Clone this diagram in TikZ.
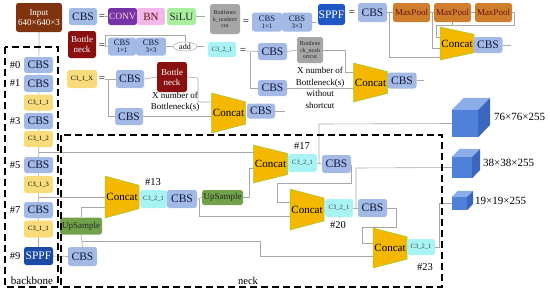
\documentclass[tikz,border=0pt]{standalone}
\usepackage{fontspec}
\setmainfont{Liberation Serif}
\usetikzlibrary{backgrounds,shapes.geometric}
\definecolor{cbsc}{HTML}{A4BAE6}
\definecolor{navyc}{HTML}{101838}
\definecolor{yelc}{HTML}{F8DC7C}
\definecolor{cyac}{HTML}{A8F4F4}
\definecolor{mpc}{HTML}{CF7E2E}
\definecolor{mptc}{HTML}{6B0F0F}
\definecolor{convc}{HTML}{7434A8}
\definecolor{bnc}{HTML}{F2B8EA}
\definecolor{siluc}{HTML}{A8F0A0}
\definecolor{grayc}{HTML}{A6A6A6}
\definecolor{sppfc}{HTML}{2157C4}
\definecolor{bottc}{HTML}{8A0F0F}
\definecolor{upc}{HTML}{71A24A}
\definecolor{catc}{HTML}{F5B800}
\definecolor{catl}{HTML}{9CC83A}
\definecolor{inpc}{HTML}{80330F}
\definecolor{linec}{HTML}{A8A8A8}
\definecolor{cubef}{HTML}{4F81D8}
\definecolor{cubet}{HTML}{8CAEE8}
\definecolor{cubes}{HTML}{3A66BE}
\tikzset{
 box/.style={rounded corners=2.5pt, inner sep=0pt, align=center},
 cbs/.style={box, fill=cbsc, text=navyc, minimum width=29pt, minimum height=17pt, font=\fontsize{11.5}{12}\selectfont},
 cbss/.style={box, fill=cbsc, text=navyc, minimum width=30pt, minimum height=19pt, font=\fontsize{8.5}{8}\selectfont},
 c31/.style={box, fill=yelc, text=black, minimum width=29pt, minimum height=16pt, font=\fontsize{6.5}{7}\selectfont},
 c32/.style={box, fill=cyac, text=black!75, minimum width=28pt, minimum height=16pt, font=\fontsize{6.5}{7}\selectfont},
 mp/.style={box, fill=mpc, text=mptc, minimum width=37pt, minimum height=19pt, font=\fontsize{9}{9}\selectfont},
 sppf/.style={box, fill=sppfc, text=white, minimum width=28pt, minimum height=19pt, font=\fontsize{11.5}{12}\selectfont},
 bott/.style={box, fill=bottc, text=white, minimum width=29pt, minimum height=28pt, font=\fontsize{9}{10}\selectfont},
 bns/.style={box, fill=grayc, text=black!85, minimum width=28pt, minimum height=28pt, font=\fontsize{6}{6.5}\selectfont},
 ups/.style={box, fill=upc, text=black!85, minimum width=42pt, minimum height=17pt, font=\fontsize{9}{9}\selectfont},
 eqs/.style={inner sep=0pt, font=\fontsize{11}{11}\selectfont},
 lbl/.style={inner sep=0pt, font=\fontsize{10.5}{11}\selectfont},
 note/.style={inner sep=0pt, align=center, font=\fontsize{9}{11.5}\selectfont},
 ln/.style={draw=linec, line width=0.6pt},
 bdash/.style={draw=black, line width=1.3pt, dash pattern=on 7pt off 4pt},
 cubelbl/.style={inner sep=0pt, anchor=west, font=\fontsize{11}{11}\selectfont},
}
\newcommand{\concatnode}[4]{%
 \filldraw[fill=catc, draw=catl, line width=0.5pt] (#2-17,#3-#4/2) -- (#2+17,#3-0.28*#4) -- (#2+17,#3+0.28*#4) -- (#2-17,#3+#4/2) -- cycle;
 \node[inner sep=0pt, minimum width=34pt, minimum height=#4pt, font=\fontsize{11}{11}\selectfont] (#1) at (#2,#3) {Concat};}
\newcommand{\cubenode}[6]{% name, cx, cy, w, h, d
 \node[fill=cubef, minimum width=#4pt, minimum height=#5pt, inner sep=0pt] (#1) at (#2,#3) {};
 \fill[cubet] (#1.north west) -- (#1.north east) -- ++(#6,-#6) -- ([shift={(#6,-#6)}]#1.north west) -- cycle;
 \fill[cubes] (#1.north east) -- ++(#6,-#6) -- ++(0,#5) -- (#1.south east) -- cycle;}
\begin{document}
\begin{tikzpicture}[x=1pt,y=-1pt]
\useasboundingbox (0,0) rectangle (550,293);
% ---------- legend row 1
\node[box, fill=inpc, text=white, minimum width=46pt, minimum height=29pt, font=\fontsize{9}{10.5}\selectfont] (input) at (39,17.5) {Input\\640×640×3};
\node[cbs, minimum width=28pt] (lcbs) at (83,16.5) {CBS};
\node[eqs] (leq1) at (102,16.5) {=};
\node[box, fill=convc, text=pink!70, minimum width=29pt, minimum height=17pt, font=\fontsize{9.5}{10}\selectfont] (conv) at (122.5,16.5) {CONV};
\node[box, fill=bnc, text=mptc, minimum width=28pt, minimum height=17pt, font=\fontsize{11}{11}\selectfont] (bn) at (151,16.5) {BN};
\node[box, fill=siluc, text=black!85, minimum width=29pt, minimum height=17pt, font=\fontsize{11}{11}\selectfont] (silu) at (181.5,16.5) {SiLU};
\coordinate (silout) at (205,16.5);
\node[bns, minimum width=30pt, minimum height=30pt] (bnsl) at (225,19) {Bottlenec\\k\_noshort\\cut};
\node[eqs] (leq2) at (246,22) {=};
\node[cbss] (b11) at (267,22) {CBS\\[-1pt]{\fontsize{7}{7}\selectfont 1×1}};
\node[cbss] (b33) at (297,22) {CBS\\[-1pt]{\fontsize{7}{7}\selectfont 3×3}};
\coordinate (b33out) at (316,22);
\node[sppf, minimum width=27pt, minimum height=21pt] (sppfl) at (331.5,14.5) {SPPF};
\node[eqs] (leq3) at (352,13) {=};
\node[cbs, minimum height=19pt] (spcbs) at (372.5,12.5) {CBS};
\node[mp] (mp1) at (411.5,12.5) {MaxPool};
\node[mp] (mp2) at (452.5,12.5) {MaxPool};
\node[mp] (mp3) at (493.5,12.5) {MaxPool};
\concatnode{spcc}{457}{43.5}{33}
\node[cbs, minimum height=16pt] (spcbs2) at (488,45) {CBS};
\coordinate (spout) at (511,45);
% ---------- legend row 2 : bottleneck
\node[bott, minimum width=28pt, minimum height=27pt] (lbn) at (82,44.5) {Bottle\\neck};
\node[eqs] (leq4) at (102,46) {=};
\node[cbss, minimum width=28pt, minimum height=18pt] (bc1) at (122,46.5) {CBS\\[-1pt]{\fontsize{7}{7}\selectfont 1×1}};
\node[cbss, minimum width=30pt, minimum height=18pt] (bc3) at (151,46.5) {CBS\\[-1pt]{\fontsize{7}{7}\selectfont 3×3}};
\node[ellipse, draw=linec, line width=0.5pt, inner sep=0pt, minimum width=24pt, minimum height=9pt, font=\fontsize{8}{8}\selectfont] (badd) at (185,46.5) {add};
\coordinate (baddout) at (204,46.5);
% ---------- C3_2_1 definition
\node[c32, minimum height=15pt] (lc32) at (222,49.5) {C3\_2\_1};
\node[eqs] (leq5) at (243,51) {=};
\node[cbs] (c2a) at (272.5,51.5) {CBS};
\node[bns, minimum width=26pt, minimum height=26pt] (c2bn) at (310,50) {Bottlene\\ck\_nosh\\ortcut};
\node[note] (c2txt) at (320,88) {X number of\\Bottleneck(s)\\without\\shortcut};
\node[cbs, minimum height=16pt] (c2b) at (272.5,88) {CBS};
\concatnode{c2cc}{370.5}{82.5}{39}
\node[cbs, minimum height=16pt] (c2c) at (402,80.5) {CBS};
\coordinate (c2out) at (424,80.5);
% ---------- C3_1_X definition
\node[c31, minimum width=30pt, minimum height=18pt] (lc31) at (82,79) {C3\_1\_X};
\node[eqs] (leq6) at (102,79) {=};
\node[cbs, minimum width=28pt, minimum height=18pt] (c1a) at (130,79) {CBS};
\node[bott, minimum width=30pt, minimum height=30pt] (c1bn) at (172,77) {Bottle\\neck};
\node[note] (c1txt) at (175,102) {X number of\\Bottleneck(s)};
\node[cbs, minimum width=28pt] (c1b) at (129,116.5) {CBS};
\concatnode{c1cc}{228.5}{113}{40}
\node[cbs, minimum width=28pt, minimum height=15pt] (c1c) at (261,111) {CBS};
\coordinate (c1out) at (285,111);
% ---------- backbone
\node[cbs, minimum height=16pt] (n0) at (38.5,65) {CBS};
\node[cbs] (n1) at (38.5,83.5) {CBS};
\node[c31] (n2) at (38.5,102.5) {C3\_1\_1};
\node[cbs, minimum height=16pt] (n3) at (38.5,121) {CBS};
\node[c31] (n4) at (38.5,139) {C3\_1\_2};
\node[cbs, minimum height=16pt] (n5) at (38.5,165) {CBS};
\node[c31, minimum height=17pt] (n6) at (38.5,184.5) {C3\_1\_3};
\node[cbs, minimum height=16pt] (n7) at (38.5,210) {CBS};
\node[c31, minimum height=17pt] (n8) at (38.5,229) {C3\_1\_1};
\node[sppf, fill=sppfc!85!black, minimum width=29pt, minimum height=18pt] (n9) at (38.5,256) {SPPF};
\node[lbl] (h0) at (15,65) {\#0};
\node[lbl] (h1) at (15,83.5) {\#1};
\node[lbl] (h3) at (15,121) {\#3};
\node[lbl] (h5) at (15,165) {\#5};
\node[lbl] (h7) at (15,210) {\#7};
\node[lbl] (h9) at (15,256) {\#9};
% ---------- neck
\node[ups] (u1) at (81,226) {UpSample};
\node[cbs, minimum height=19pt] (cn) at (82.5,256.5) {CBS};
\concatnode{cc13}{122}{197}{42}
\node[c32, minimum width=27pt, minimum height=18pt] (x13) at (153.5,199) {C3\_2\_1};
\node[lbl] (t13) at (153,182) {\#13};
\node[cbs, minimum width=30pt, minimum height=18pt] (cbs14) at (182,199) {CBS};
\node[ups, minimum width=41pt, minimum height=15pt] (up2) at (222.5,197.5) {UpSample};
\concatnode{cc17}{270.5}{164}{38}
\node[c32, minimum width=29pt, minimum height=18pt] (x17) at (302.5,163) {C3\_2\_1};
\node[lbl] (t17) at (302,146) {\#17};
\node[cbs, minimum height=18pt] (cbs18) at (336.5,164) {CBS};
\concatnode{cc20}{307}{209.5}{41}
\node[c32, minimum height=18pt] (x20) at (339,208) {C3\_2\_1};
\node[lbl] (t20) at (338,225) {\#20};
\node[cbs, minimum width=29pt, minimum height=18pt] (cbs21) at (372.5,208) {CBS};
\concatnode{cc23}{390}{248}{40}
\node[c32] (x23) at (421,247) {C3\_2\_1};
\node[lbl] (t23) at (425,267) {\#23};
% ---------- outputs
\cubenode{cube76}{465}{123.5}{26}{27}{12}
\cubenode{cube38}{462}{167.5}{20}{21}{8}
\cubenode{cube19}{459.5}{203.5}{15}{13}{6}
\node[cubelbl] (l76) at (494,117) {76×76×255};
\node[cubelbl] (l38) at (483,163) {38×38×255};
\node[cubelbl] (l19) at (475,201) {19×19×255};
% ---------- dashed frames
\draw[bdash] (5,47) rectangle (58,287);
\draw[bdash] (61,135) rectangle (442,287);
\node[lbl, font=\fontsize{11}{11}\selectfont] (lback) at (32,281) {backbone};
\node[lbl, font=\fontsize{10.5}{11}\selectfont] (lneck) at (248,281) {neck};
% ---------- connectors
\begin{scope}[on background layer]
\draw[ln] (input.south) -- (n9.north);
\draw[ln] (leq1.east) -- (conv.west);
\draw[ln] (silu.east) -- (silout);
\draw[ln] (b33.east) -- (b33out);
\draw[ln] (spcbs.east) -- (mp1.west);
\draw[ln] (mp1.east) -- (mp2.west);
\draw[ln] (mp2.east) -- (mp3.west);
\draw[ln] (389,12.5) -- (389,57) -- (440,57);
\draw[ln] (432,12.5) -- (432,48) -- (440,48);
\draw[ln] (mp3.east) -- (514,12.5) -- (514,25) -- (436,25) -- (436,37) -- (440,37);
\draw[ln] (mp2.south) -- (452.5,25);
\draw[ln] (spcbs2.east) -- (spout);
% bottleneck
\draw[ln] (leq4.east) -- (bc1.west);
\draw[ln] (105,46.5) -- (105,35) -- (185,35) -- (badd.north);
\draw[ln] (bc3.east) -- (badd.west);
\draw[ln] (badd.east) -- (baddout);
% C3_2_1
\draw[ln] (leq5.east) -- (c2a.west);
\draw[ln] (250,51.5) -- (250,88) -- (c2b.west);
\draw[ln] (c2a.east) -- (c2bn.west);
\draw[ln] (c2bn.east) -- (345,50) -- (345,72) -- (354,72);
\draw[ln] (c2b.east) -- (354,88);
\draw[ln] (c2c.east) -- (c2out);
% C3_1_X
\draw[ln] (leq6.east) -- (c1a.west);
\draw[ln] (108,79) -- (108,116.5) -- (c1b.west);
\draw[ln] (c1a.east) -- (c1bn.west);
\draw[ln] (c1bn.east) -- (198,78) -- (198,102) -- (212,102);
\draw[ln] (c1b.east) -- (212,116.5);
\draw[ln] (c1c.east) -- (c1out);
% neck
\draw[ln] (n9.east) -- (cn.west);
\draw[ln] (cn.north) -- (u1.south);
\draw[ln] (82,241) -- (260,241) -- (260,256) -- (374,256);
\draw[ln] (u1.north) -- (81,207) -- (106,207);
\draw[ln] (38.5,197) -- (106,197);
\draw[ln] (38.5,152) -- (254,152);
\draw[ln] (x13.east) -- (cbs14.west);
\draw[ln] (cbs14.east) -- (up2.west);
\draw[ln] (199.5,199) -- (199.5,216) -- (291,216);
\draw[ln] (up2.east) -- (249,197.5) -- (249,168) -- (254,168);
\draw[ln] (x17.east) -- (cbs18.west);
\draw[ln] (319,163) -- (319,124) -- (cube76.west);
\draw[ln] (351,165) -- (351,183) -- (277,183) -- (277,202) -- (291,202);
\draw[ln] (x20.east) -- (cbs21.west);
\draw[ln] (356,208) -- (356,168) -- (cube38.west);
\draw[ln] (cbs21.east) -- (396,208) -- (396,227) -- (362,227) -- (362,243) -- (374,243);
\draw[ln] (x23.east) -- (439,247) -- (439,203.5) -- (cube19.west);
\end{scope}
\end{tikzpicture}
\end{document}
